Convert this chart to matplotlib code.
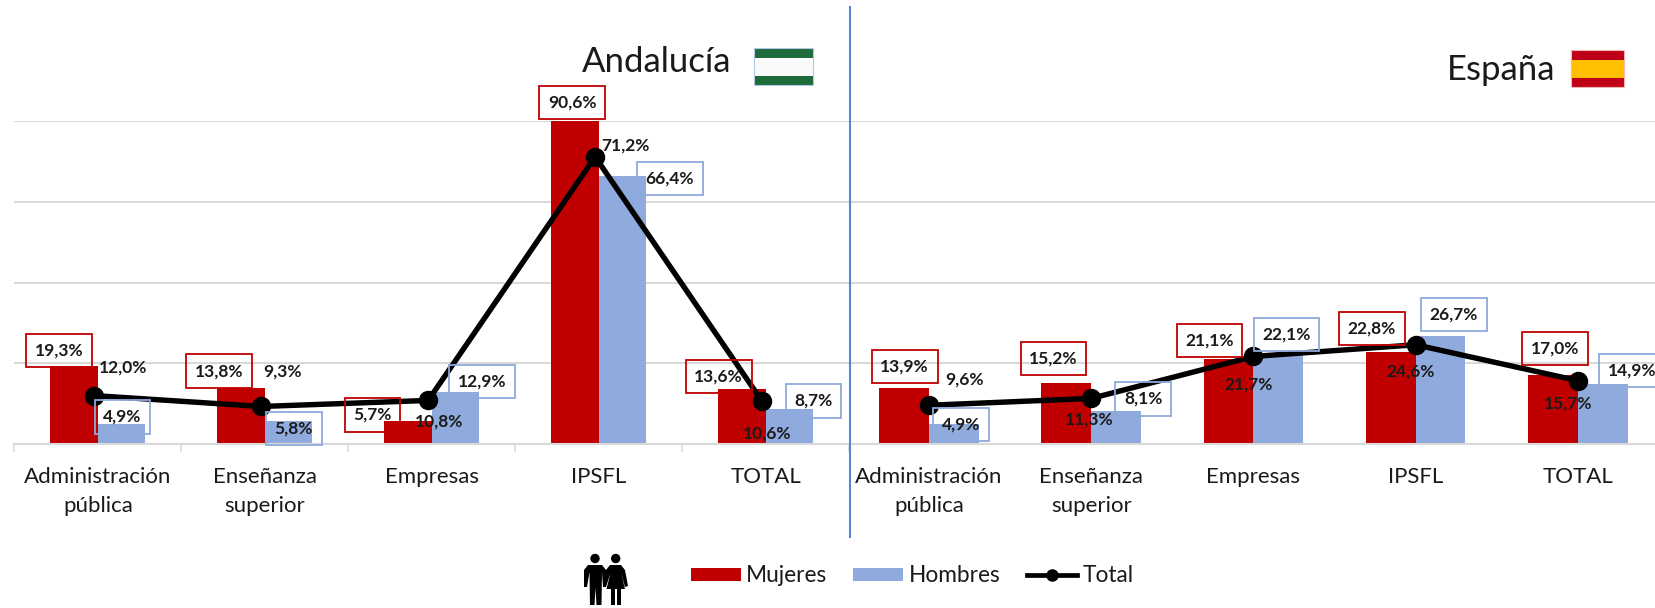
import matplotlib
matplotlib.use("Agg")
import matplotlib.pyplot as plt
from matplotlib.patches import Rectangle, Circle, Polygon
from matplotlib.lines import Line2D

W, H = 1655, 608
plt.rcParams['font.family'] = ['Lato', 'DejaVu Sans']

categories = ["Administración\npública", "Enseñanza\nsuperior", "Empresas", "IPSFL", "TOTAL"]
and_mujeres = [19.3, 13.8, 5.7, 90.6, 13.6]
and_hombres = [4.9, 5.8, 12.9, 66.4, 8.7]
and_total = [12.0, 9.3, 10.8, 71.2, 10.6]
esp_mujeres = [13.9, 15.2, 21.1, 22.8, 17.0]
esp_hombres = [4.9, 8.1, 22.1, 26.7, 14.9]
esp_total = [9.6, 11.3, 21.7, 24.6, 15.7]

# label offsets in pixels from (category, value)
and_m_off = [(-38.9, 17.1), (-45.9, 18.8), (-59.3, 7.5), (-26.4, -22.3), (-46.9, 14.1)]
and_h_off = [(24.6, 8.9), (29.1, -6.4), (50.6, 11.9), (71.1, -0.6), (48.1, 9.4)]
and_t_off = [(24.9, 29.9), (18.1, 36.5), (7.1, -19.6), (26.8, 13.2), (2.1, -31.1)]
esp_m_off = [(-24.4, 22.9), (-37.7, 25.6), (-43.9, 19.8), (-43.8, 24.9), (-23, 28.4)]
esp_h_off = [(31.6, 1.2), (51.9, 14), (33.1, 21.8), (38.2, 23.2), (54.3, 14.8)]
esp_t_off = [(35.8, 26.9), (-1.7, -19.9), (-4.5, -26.3), (-4.6, -25.6), (-10, -21.4)]

RED, BLUE, BLUE_EDGE, GRID, TXT = '#C00000', '#8FAADC', '#8EA9DB', '#D9D9D9', '#1a1a1a'

fig = plt.figure(figsize=(W / 100, H / 100), dpi=100, facecolor='white')


def px_axes(x0, x1, ytop, ybot):
    return fig.add_axes([x0 / W, 1 - ybot / H, (x1 - x0) / W, (ybot - ytop) / H])


def fmt(v):
    return f"{v:.1f}%".replace('.', ',')


def panel(ax, m, h, t, moff, hoff, toff, width, xlim, line_shift):
    xs = list(range(len(categories)))
    ax.bar([x - width / 2 for x in xs], m, width, color=RED, zorder=2)
    ax.bar([x + width / 2 for x in xs], h, width, color=BLUE, zorder=2)
    ax.plot([x + line_shift for x in xs], t, color='black', lw=3.9, marker='o', ms=13, zorder=3)
    ax.set_xlim(*xlim)
    ax.set_ylim(0, 80)
    ax.set_yticks([0, 20, 40, 60, 80])
    ax.tick_params(axis='y', left=False, labelleft=False)
    ax.yaxis.grid(True, color=GRID, lw=1.5, zorder=0)
    ax.set_axisbelow(True)
    for s in ['top', 'left', 'right']:
        ax.spines[s].set_visible(False)
    ax.spines['bottom'].set_color(GRID)
    ax.spines['bottom'].set_linewidth(1.5)
    ax.set_xticks(xs)
    ax.set_xticklabels(categories, fontsize=16, color=TXT, linespacing=1.55)
    ax.tick_params(axis='x', length=0, pad=16.5)
    for vals, off, edge in ((m, moff, RED), (h, hoff, BLUE_EDGE), (t, toff, None)):
        for x, v, (dx, dy) in zip(xs, vals, off):
            bbox = None
            if edge:
                bbox = dict(boxstyle='square,pad=0.5', fc='none', ec=edge, lw=1.3)
            ax.annotate(fmt(v), xy=(x, v), xytext=(dx, dy - 1.5), textcoords='offset pixels',
                        ha='center', va='center', fontsize=12.5, fontweight='bold', color=TXT,
                        annotation_clip=False, bbox=bbox, zorder=5)


ax1 = px_axes(14.4, 849, 121.3, 444)
ax2 = px_axes(848, 1655, 121.3, 444)
panel(ax1, and_mujeres, and_hombres, and_total, and_m_off, and_h_off, and_t_off, 0.285, (-0.5, 4.5), -0.021)
panel(ax2, esp_mujeres, esp_hombres, esp_total, esp_m_off, esp_h_off, esp_t_off, 0.307, (-0.5, 4.476), 0)

ax1.set_xticks([-0.5, 0.5, 1.5, 2.5, 3.5, 4.5], minor=True)
ax1.tick_params(axis='x', which='minor', length=6, width=1.2, color=GRID, bottom=True)

# overlay in pixel coordinates for decoration
ov = fig.add_axes([0, 0, 1, 1], facecolor='none', zorder=10)
ov.set_xlim(0, W)
ov.set_ylim(H, 0)
ov.axis('off')

ov.plot([850, 850], [7, 537], color='#5B84D6', lw=1.5)

ov.text(657, 62, "Andalucía", fontsize=25, color=TXT, ha='center', va='center')
ov.text(1501, 70, "España", fontsize=25, color=TXT, ha='center', va='center')


def flag(x0, x1, y0, y1, bands, edge):
    total = sum(b[0] for b in bands)
    y = y0
    for frac, col in bands:
        hh = (y1 - y0) * frac / total
        ov.add_patch(Rectangle((x0, y), x1 - x0, hh, fc=col, ec='none'))
        y += hh
    ov.add_patch(Rectangle((x0, y0), x1 - x0, y1 - y0, fc='none', ec=edge, lw=0.8))


flag(754, 812.6, 47.7, 84.7, [(10, '#1E6B3C'), (18, '#FAFAFA'), (8, '#1E6B3C')], '#B4C7E7')
flag(1571, 1623.5, 50, 86.7, [(10, '#C00018'), (18.5, '#FFC000'), (8.5, '#C00018')], '#F4B6B6')

# couple icon
ov.add_patch(Circle((595, 558.5), 4.7, fc='black', ec='none'))
ov.add_patch(Polygon([(588, 565), (602, 565), (606, 570), (606, 587), (603, 587), (602, 572),
                      (601.5, 605), (596.5, 605), (595.5, 588), (594.5, 605), (590, 605),
                      (589.5, 572), (587, 587), (584, 587), (584, 570)], fc='black', ec='none'))
ov.add_patch(Circle((615.7, 558.5), 4.7, fc='black', ec='none'))
ov.add_patch(Polygon([(610, 565), (621, 565), (625, 570), (628, 586), (625, 587), (621, 573),
                      (625, 589), (606.5, 589), (610.5, 573), (606, 587), (603.5, 586), (606, 570)],
                     fc='black', ec='none'))
ov.add_patch(Rectangle((610.7, 588), 3.8, 17, fc='black', ec='none'))
ov.add_patch(Rectangle((616.8, 588), 3.8, 17, fc='black', ec='none'))

handles = [Rectangle((0, 0), 1, 1, fc=RED, ec='none'), Rectangle((0, 0), 1, 1, fc=BLUE, ec='none'),
           Line2D([], [], color='black', lw=3.4, marker='o', ms=8)]
leg = fig.legend(handles, ["Mujeres", "Hombres", "Total"], ncol=3, frameon=False, fontsize=16.3,
                 loc='center', bbox_to_anchor=(912 / W, 1 - 576 / H), labelcolor=TXT,
                 handlelength=2.2, handleheight=0.5, handletextpad=0.25, columnspacing=1.15)
leg.set_zorder(11)

fig.savefig('out.png', dpi=100, facecolor='white')
